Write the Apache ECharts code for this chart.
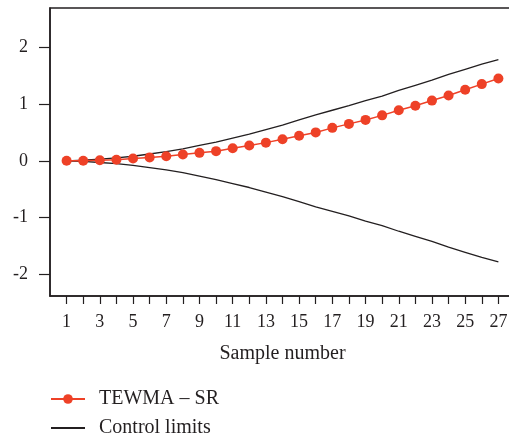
<!DOCTYPE html>
<html>
<head>
<meta charset="utf-8">
<script src="https://cdn.jsdelivr.net/npm/echarts@6/dist/echarts.min.js"></script>
<style>
html,body{margin:0;padding:0;background:#fff;}
#chart{width:509px;height:440px;}
</style>
</head>
<body>
<div id="chart"></div>
<script>
const samples = [1,2,3,4,5,6,7,8,9,10,11,12,13,14,15,16,17,18,19,20,21,22,23,24,25,26,27];
const tewmaSR = [0.00,0.00,0.01,0.02,0.04,0.06,0.08,0.11,0.14,0.17,0.22,0.27,0.32,0.38,0.44,0.50,0.58,0.65,0.72,0.80,0.89,0.97,1.06,1.15,1.25,1.35,1.45];
const upperLimit = [0.00,0.01,0.03,0.05,0.08,0.12,0.16,0.21,0.27,0.33,0.40,0.47,0.55,0.63,0.72,0.81,0.89,0.97,1.06,1.14,1.24,1.33,1.42,1.52,1.61,1.70,1.78];
const lowerLimit = [0.00,-0.01,-0.03,-0.05,-0.08,-0.12,-0.16,-0.21,-0.27,-0.33,-0.40,-0.47,-0.55,-0.63,-0.72,-0.81,-0.89,-0.97,-1.06,-1.14,-1.24,-1.33,-1.42,-1.52,-1.61,-1.70,-1.78];
const xTickLabels = [1,3,5,7,9,11,13,15,17,19,21,23,25,27];
const yTickLabels = [-2,-1,0,1,2];
const seriesNames = ['TEWMA \u2013 SR', 'Control limits'];

const ink = '#231f20';
const red = '#ee4127';
const font = 'Liberation Serif';

const pair = (ys) => samples.map((x, i) => [x, ys[i]]);

const chart = echarts.init(document.getElementById('chart'), null, {renderer: 'canvas'});
chart.setOption({
  animation: false,
  backgroundColor: '#fff',
  grid: {left: 50, top: 8, width: 465, height: 288, outerBoundsMode: 'none', containLabel: false, show: true, borderColor: ink, borderWidth: 1.5},
  xAxis: {
    type: 'value', min: 0, max: 28,
    name: 'Sample number', nameLocation: 'middle', nameGap: 48,
    nameTextStyle: {fontFamily: font, fontSize: 20, color: ink},
    axisLine: {show: true, onZero: false, lineStyle: {color: ink, width: 1.5}},
    axisTick: {show: true, inside: false, length: 8, customValues: samples, lineStyle: {color: ink, width: 1.2}},
    axisLabel: {customValues: xTickLabels, margin: 17, fontFamily: font, fontSize: 18, color: ink},
    splitLine: {show: false}
  },
  yAxis: {
    type: 'value', min: -2.38, max: 2.69,
    axisLine: {show: true, onZero: false, lineStyle: {color: ink, width: 1.5}},
    axisTick: {show: true, inside: false, length: 11, customValues: yTickLabels, lineStyle: {color: ink, width: 1.2}},
    axisLabel: {customValues: yTickLabels, margin: 22, fontFamily: font, fontSize: 18, color: ink},
    splitLine: {show: false}
  },
  legend: {
    orient: 'vertical', left: 50, top: 389, padding: 0,
    itemWidth: 34, itemHeight: 12, itemGap: 9,
    data: [
      {name: seriesNames[0]},
      {name: seriesNames[1], itemStyle: {opacity: 0}}
    ],
    textStyle: {fontFamily: font, fontSize: 20, color: ink, padding: [0, 0, 0, 9]}
  },
  series: [
    {name: seriesNames[1], type: 'line', data: pair(upperLimit), symbol: 'none', lineStyle: {color: ink, width: 1.3}, itemStyle: {color: ink}},
    {name: seriesNames[1], type: 'line', data: pair(lowerLimit), symbol: 'none', lineStyle: {color: ink, width: 1.3}, itemStyle: {color: ink}},
    {name: seriesNames[0], type: 'line', data: pair(tewmaSR), symbol: 'circle', symbolSize: 10, lineStyle: {color: red, width: 1.5}, itemStyle: {color: red}}
  ]
});
</script>
</body>
</html>
